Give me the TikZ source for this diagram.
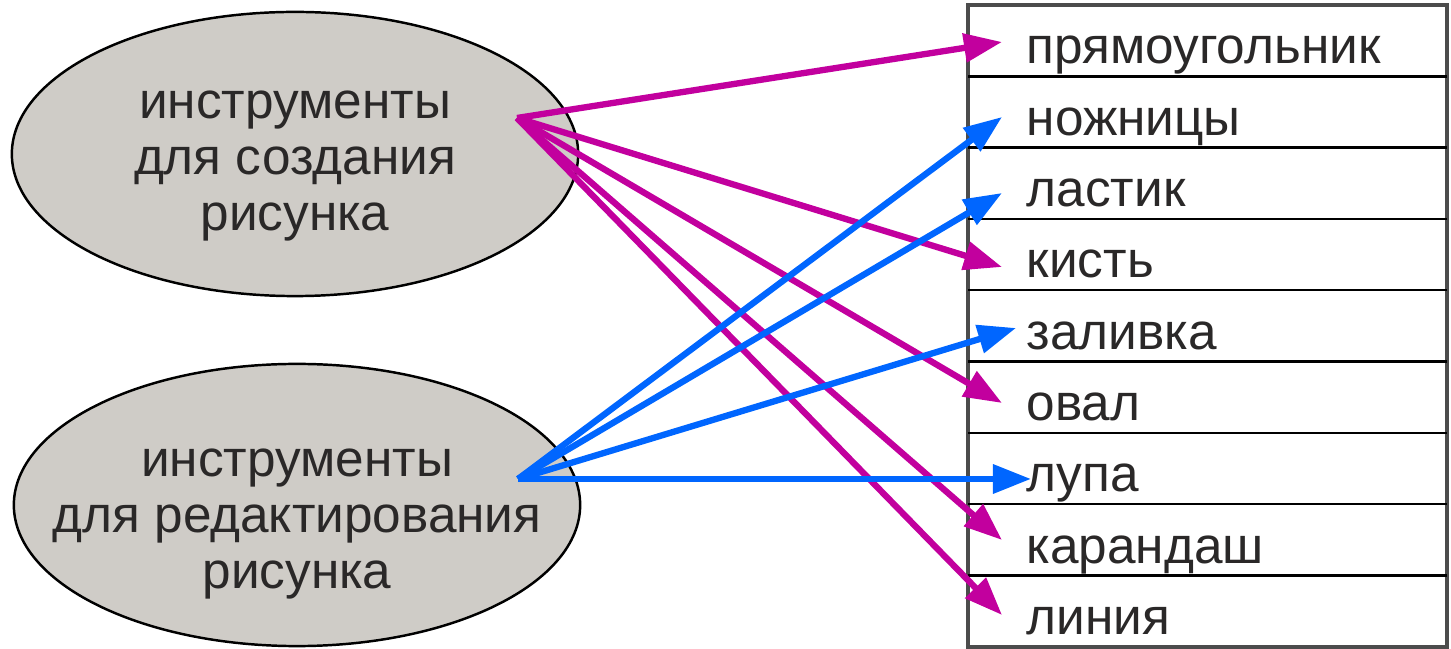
\documentclass[tikz,border=0pt]{standalone}
\usepackage{fontspec}
\setmainfont{Liberation Sans}
\usepackage{xcolor}
\usepackage{tikz}
\usetikzlibrary{arrows.meta,shapes.geometric,positioning}

\definecolor{pinkline}{RGB}{194,0,158}
\definecolor{blueline}{RGB}{0,102,255}
\definecolor{ovalfill}{RGB}{207,204,199}
\definecolor{inkgray}{RGB}{42,40,40}

\tikzset{
	oval/.style={ellipse,draw=black,line width=0.7pt,fill=ovalfill,minimum width=5.66cm,minimum height=2.84cm,inner sep=0pt},
	ovaltext/.style={align=center,text=inkgray,font=\fontsize{14.6pt}{15.8pt}\selectfont},
	item/.style={anchor=base west,inner sep=0pt,text=inkgray,font=\fontsize{14.6pt}{15.8pt}\selectfont},
	pinkarrow/.style={-{Triangle[length=0.38cm,width=0.28cm]},line width=1.8pt,pinkline},
	bluearrow/.style={-{Triangle[length=0.38cm,width=0.28cm]},line width=1.8pt,blueline}
}

\begin{document}
\begin{tikzpicture}[x=0.01cm,y=-0.01cm]
	\useasboundingbox (0,0) rectangle (1451,649);
	% the two groups
	\node[oval,label={[ovaltext,yshift=-0.12cm]center:инструменты\\для создания\\рисунка}] (create) at (295,154) {};
	\node[oval,minimum height=2.82cm,label={[ovaltext,yshift=-0.19cm]center:инструменты\\для редактирования\\рисунка}] (edit) at (297,505) {};
	% the list of tools
	\draw[line width=1.1pt,black!70] (968,5) rectangle (1447,647);
	\foreach \i in {1,...,8}
		\draw[line width=0.7pt] (968,{5+71.3*\i}) -- (1447,{5+71.3*\i});
	\foreach \w [count=\i] in {прямоугольник,ножницы,ластик,кисть,заливка,овал,лупа,карандаш,линия}
		\node[item] (w\i) at (1026,{5+71.3*(\i-1)+59}) {\w};
	% arrows
	\coordinate (mk) at (517,118);
	\coordinate (ed) at (518,479);
	\foreach \i/\x/\y in {1/1002/42,2/1002/117,3/1002/193,4/1002/267,5/1016/328,6/1002/403,7/1031/479,8/1002/540,9/1002/615}
		\coordinate (t\i) at (\x,\y);
	\foreach \t in {1,4,6,8,9}
		\draw[pinkarrow] (mk) -- (t\t);
	\foreach \t in {2,3,5,7}
		\draw[bluearrow] (ed) -- (t\t);
\end{tikzpicture}
\end{document}
